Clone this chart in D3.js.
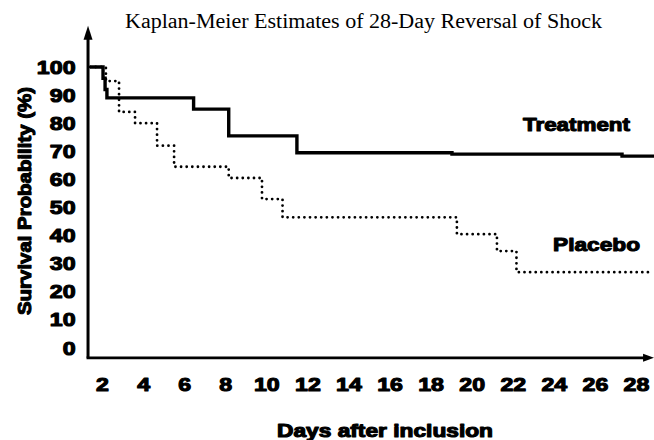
<!DOCTYPE html>
<html>
<head>
<meta charset="utf-8">
<script src="https://cdn.jsdelivr.net/npm/d3@7/dist/d3.min.js"></script>
<style>
  html, body { margin: 0; padding: 0; background: #fff; }
  svg { display: block; }
  .bold { font-family: "Liberation Sans", Arial, sans-serif; font-weight: 700; fill: #000; stroke: #000; stroke-width: 1.1px; stroke-linejoin: round; }
</style>
</head>
<body>
<svg id="chart" width="654" height="440"></svg>
<script>
// Kaplan-Meier step curves: each value holds from its day until the next day
const treatmentDays = [1.42, 2.05, 2.15, 2.24, 6.46, 8.17, 11.49, 19.04, 27.32, 28.97];
const treatmentSurvival = [100, 96, 92, 89, 85, 75.5, 69.5, 69, 68.3, 68.3];

const placeboDays = [1.42, 2.19, 2.83, 3.61, 4.68, 5.51, 8.17, 9.79, 10.79, 19.28, 21.23, 22.18, 28.78];
const placeboSurvival = [100, 95, 84, 80, 72, 64.5, 60.5, 53, 46.5, 40.5, 34.5, 27, 27];

const dayTicks = [2, 4, 6, 8, 10, 12, 14, 16, 18, 20, 22, 24, 26, 28];
const survivalTicks = [0, 10, 20, 30, 40, 50, 60, 70, 80, 90, 100];

const titleText = "Kaplan-Meier Estimates of 28-Day Reversal of Shock";
const xTitle = "Days after inclusion";
const yTitle = "Survival Probability (%)";
const seriesNames = ["Treatment", "Placebo"];

const svg = d3.select("#chart");

const x = d3.scaleLinear().domain([2, 28]).range([102, 636]);
const y = d3.scaleLinear().domain([0, 100]).range([348, 67]);

const xStart = 1.32, xEnd = 28.88;   // axis extent in days
const yBottom = -3.5, yTop = 114;    // axis extent in percent

const x0 = x(xStart), yAxisPos = y(yBottom);

// Title
svg.append("text")
  .attr("x", 125).attr("y", 28)
  .attr("textLength", 477).attr("lengthAdjust", "spacingAndGlyphs")
  .style("font-family", "'Liberation Serif', 'Times New Roman', serif")
  .style("font-size", "20px")
  .text(titleText);

// Axis lines with arrow heads
svg.append("line")
  .attr("x1", x0).attr("y1", yAxisPos)
  .attr("x2", x0).attr("y2", y(yTop) + 8)
  .attr("stroke", "#000").attr("stroke-width", 3);
svg.append("path")
  .attr("d", `M${x0},${y(yTop) - 2} L${x0 - 4.5},${y(yTop) + 12} L${x0 + 4.5},${y(yTop) + 12} Z`)
  .attr("fill", "#000");

svg.append("line")
  .attr("x1", x0 - 1.5).attr("y1", yAxisPos)
  .attr("x2", x(xEnd) - 6).attr("y2", yAxisPos)
  .attr("stroke", "#000").attr("stroke-width", 2.6);
svg.append("path")
  .attr("d", `M${x(xEnd)},${yAxisPos} L${x(xEnd) - 11},${yAxisPos - 4} L${x(xEnd) - 11},${yAxisPos + 4} Z`)
  .attr("fill", "#000");

// Tick labels (no tick marks)
const stretch = 1.22;
const xAxis = svg.append("g")
  .attr("transform", `translate(0,${yAxisPos})`)
  .call(d3.axisBottom(x).tickValues(dayTicks).tickSize(0).tickPadding(19.5).tickFormat(d3.format("d")));
xAxis.select(".domain").remove();
xAxis.selectAll("text")
  .attr("class", "bold")
  .style("font-size", "19px")
  .attr("transform", `scale(${stretch},1)`);

const yAxis = svg.append("g")
  .attr("transform", `translate(${x0},0)`)
  .call(d3.axisLeft(y).tickValues(survivalTicks).tickSize(0).tickFormat(d3.format("d")));
yAxis.select(".domain").remove();
yAxis.selectAll(".tick text")
  .attr("class", "bold")
  .style("font-size", "19px")
  .attr("x", -12.5 / stretch)
  .attr("transform", `scale(${stretch},1)`);

// Survival curves
const stepLine = d3.line()
  .x(d => x(d[0]))
  .y(d => y(d[1]))
  .curve(d3.curveStepAfter);

svg.append("path")
  .datum(d3.zip(placeboDays, placeboSurvival))
  .attr("d", stepLine)
  .attr("fill", "none")
  .attr("stroke", "#000")
  .attr("stroke-width", 2.8)
  .attr("stroke-linecap", "round")
  .attr("stroke-dasharray", "0.01,5.6");

svg.append("path")
  .datum(d3.zip(treatmentDays, treatmentSurvival))
  .attr("d", stepLine)
  .attr("fill", "none")
  .attr("stroke", "#000")
  .attr("stroke-width", 3.4);

// Series labels
svg.append("text").attr("class", "bold")
  .attr("x", 523).attr("y", 131)
  .attr("textLength", 107).attr("lengthAdjust", "spacingAndGlyphs")
  .style("font-size", "19px")
  .text(seriesNames[0]);

svg.append("text").attr("class", "bold")
  .attr("x", 553).attr("y", 251)
  .attr("textLength", 87).attr("lengthAdjust", "spacingAndGlyphs")
  .style("font-size", "19px")
  .text(seriesNames[1]);

// Axis titles
svg.append("text").attr("class", "bold")
  .attr("x", 277).attr("y", 437)
  .attr("textLength", 216).attr("lengthAdjust", "spacingAndGlyphs")
  .style("font-size", "18px")
  .text(xTitle);

svg.append("text").attr("class", "bold")
  .attr("transform", "translate(31,201) rotate(-90)")
  .attr("text-anchor", "middle")
  .attr("textLength", 228).attr("lengthAdjust", "spacingAndGlyphs")
  .style("font-size", "19px")
  .text(yTitle);
</script>
</body>
</html>
